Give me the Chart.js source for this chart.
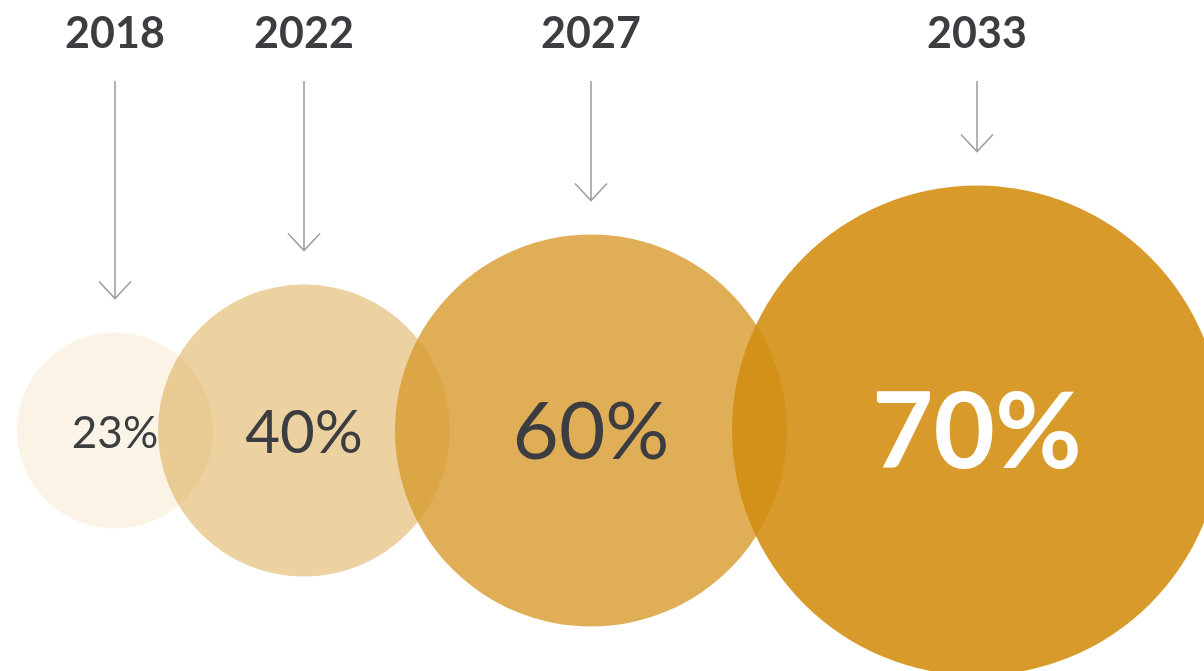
<!DOCTYPE html>
<html>
<head>
<meta charset="utf-8">
<script src="https://cdn.jsdelivr.net/npm/chart.js@4"></script>
<style>
  html, body { margin: 0; padding: 0; background: #fff; }
  canvas { display: block; }
</style>
</head>
<body>
<canvas id="bubbles" width="1204" height="671"></canvas>
<script>
// data
const years = ['2018', '2022', '2027', '2033'];
const shares = [23, 40, 60, 70];

// styling (sizes in px, not data)
const bubbleRadius = [98, 146, 196, 245];
const bubbleColors = [
  'rgba(213,153,46,0.12)',
  'rgba(213,153,46,0.45)',
  'rgba(217,155,48,0.81)',
  'rgba(211,143,20,0.90)'
];
const labelSize = [44, 60, 80, 106];
const labelWeight = [400, 400, 400, 700];
const labelColor = ['#3b3d40', '#3b3d40', '#3b3d40', '#ffffff'];
const overlap = 55;
const leftMargin = 17;

// bubbles sit side by side, each one overlapping the previous one a bit
const xPos = [];
bubbleRadius.forEach((r, i) => {
  xPos.push(i === 0 ? leftMargin + r : xPos[i - 1] + bubbleRadius[i - 1] + r - overlap);
});

const points = shares.map((v, i) => ({ x: xPos[i], y: 0, r: bubbleRadius[i], v: v }));

const annotations = {
  id: 'annotations',
  afterDatasetsDraw(chart) {
    const ctx = chart.ctx;
    const meta = chart.getDatasetMeta(0);
    ctx.save();
    meta.data.forEach((el, i) => {
      const r = bubbleRadius[i];
      // percent in the middle
      ctx.fillStyle = labelColor[i];
      ctx.font = `${labelWeight[i]} ${labelSize[i]}px Lato, "Open Sans", sans-serif`;
      ctx.textAlign = 'center';
      ctx.textBaseline = 'middle';
      ctx.fillText(shares[i] + '%', el.x, el.y + 3);

      // year on top
      ctx.fillStyle = '#3b3d40';
      ctx.font = '700 43px Lato, "Open Sans", sans-serif';
      ctx.textBaseline = 'alphabetic';
      ctx.fillText(years[i], el.x, 48);

      // arrow
      const tip = el.y - r - 34;
      ctx.strokeStyle = '#a0a0a0';
      ctx.lineWidth = 1.6;
      ctx.beginPath();
      ctx.moveTo(el.x, 81);
      ctx.lineTo(el.x, tip);
      ctx.moveTo(el.x - 16, tip - 17);
      ctx.lineTo(el.x, tip);
      ctx.lineTo(el.x + 16, tip - 17);
      ctx.stroke();
    });
    ctx.restore();
  }
};

new Chart(document.getElementById('bubbles'), {
  type: 'bubble',
  data: {
    labels: years,
    datasets: [{
      data: points,
      backgroundColor: bubbleColors,
      borderWidth: 0,
      hoverBorderWidth: 0,
      clip: false
    }]
  },
  options: {
    responsive: false,
    animation: false,
    events: [],
    layout: { autoPadding: false, padding: { top: 190, bottom: 0, left: 0, right: 0 } },
    plugins: {
      legend: { display: false },
      tooltip: { enabled: false }
    },
    scales: {
      x: { type: 'linear', min: 0, max: 1204, display: false },
      y: { type: 'linear', min: -1, max: 1, display: false }
    }
  },
  plugins: [annotations]
});
</script>
</body>
</html>
